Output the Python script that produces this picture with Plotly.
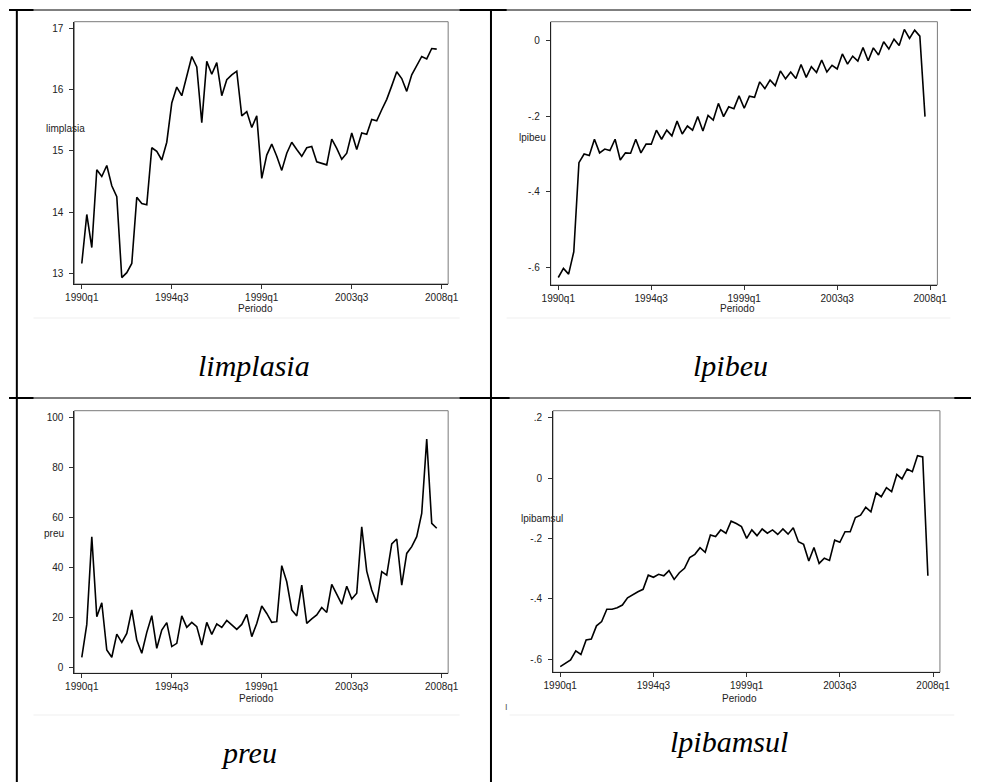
import plotly.graph_objects as go

W, H = 982, 782

# Quarterly observations, 1990q1 .. 2007q4
limplasia = [13.16, 13.96, 13.42, 14.69, 14.58, 14.76, 14.43, 14.25, 12.93, 13.01,
             13.16, 14.24, 14.14, 14.12, 15.05, 14.99, 14.85, 15.14, 15.78, 16.04,
             15.90, 16.21, 16.54, 16.37, 15.46, 16.46, 16.25, 16.44, 15.90, 16.16,
             16.24, 16.30, 15.57, 15.64, 15.38, 15.57, 14.55, 14.93, 15.11, 14.91,
             14.68, 14.96, 15.14, 15.02, 14.91, 15.05, 15.07, 14.82, 14.80, 14.77,
             15.19, 15.04, 14.86, 14.96, 15.29, 15.02, 15.29, 15.27, 15.51, 15.49,
             15.67, 15.84, 16.06, 16.29, 16.18, 15.97, 16.24, 16.40, 16.54, 16.50,
             16.67, 16.66]

lpibeu = [-0.627, -0.603, -0.618, -0.559, -0.323, -0.300, -0.304, -0.261, -0.297, -0.287,
          -0.291, -0.261, -0.316, -0.297, -0.298, -0.261, -0.297, -0.274, -0.274, -0.237,
          -0.261, -0.237, -0.252, -0.213, -0.247, -0.226, -0.237, -0.201, -0.239, -0.198,
          -0.210, -0.166, -0.201, -0.175, -0.180, -0.146, -0.179, -0.147, -0.150, -0.109,
          -0.127, -0.104, -0.119, -0.080, -0.101, -0.083, -0.100, -0.063, -0.097, -0.069,
          -0.084, -0.051, -0.083, -0.065, -0.075, -0.035, -0.062, -0.041, -0.054, -0.018,
          -0.053, -0.019, -0.038, -0.003, -0.022, 0.004, -0.013, 0.030, 0.006, 0.028,
          0.012, -0.201]

preu = [3.9, 17.1, 52.3, 20.2, 25.8, 6.8, 3.9, 13.2, 9.9, 13.5,
        22.9, 10.8, 5.5, 13.9, 20.6, 7.5, 14.8, 17.8, 8.2, 9.5,
        20.5, 15.9, 17.9, 16.2, 8.8, 17.9, 13.1, 17.3, 15.9, 18.7,
        16.9, 15.1, 17.1, 21.1, 12.2, 17.5, 24.5, 21.5, 17.9, 18.2,
        40.7, 34.2, 22.9, 20.5, 32.9, 17.5, 19.3, 20.9, 23.9, 21.9,
        33.2, 28.9, 25.2, 32.4, 27.3, 29.6, 56.3, 38.5, 30.9, 25.8,
        38.3, 36.9, 49.4, 51.4, 32.9, 45.6, 48.3, 52.3, 61.7, 91.5,
        57.7, 55.7]

lpibamsul = [-0.625, -0.614, -0.603, -0.573, -0.585, -0.537, -0.534, -0.490, -0.476, -0.435,
             -0.435, -0.430, -0.421, -0.397, -0.386, -0.377, -0.369, -0.322, -0.329, -0.319,
             -0.324, -0.307, -0.336, -0.314, -0.299, -0.264, -0.253, -0.231, -0.246, -0.189,
             -0.194, -0.172, -0.183, -0.143, -0.151, -0.161, -0.200, -0.172, -0.191, -0.169,
             -0.183, -0.172, -0.187, -0.169, -0.186, -0.165, -0.211, -0.220, -0.275, -0.230,
             -0.283, -0.266, -0.273, -0.206, -0.213, -0.178, -0.178, -0.131, -0.123, -0.097,
             -0.112, -0.049, -0.062, -0.032, -0.045, 0.012, -0.003, 0.030, 0.021, 0.074,
             0.070, -0.324]

period_ticks = [0, 18, 36, 54, 72]
period_labels = ["1990q1", "1994q3", "1999q1", "2003q3", "2008q1"]

y_ticks_limplasia = [13, 14, 15, 16, 17]
y_labels_limplasia = ["13", "14", "15", "16", "17"]
y_ticks_lpibeu = [-0.6, -0.4, -0.2, 0]
y_labels_lpibeu = ["-.6", "-.4", "-.2", "0"]
y_ticks_preu = [0, 20, 40, 60, 80, 100]
y_labels_preu = ["0", "20", "40", "60", "80", "100"]
y_ticks_lpibamsul = [-0.6, -0.4, -0.2, 0, 0.2]
y_labels_lpibamsul = ["-.6", "-.4", "-.2", "0", ".2"]

captions = ["limplasia", "lpibeu", "preu", "lpibamsul"]


def px(x):
    return x / W


def py(y):
    return 1 - y / H


SANS = "Arial, Liberation Sans, Helvetica, sans-serif"
SERIF = "Times New Roman, Liberation Serif, serif"

# panel geometry in page pixels: box (left, right, top, bottom), axis ranges
panels = [
    dict(name="limplasia", y=limplasia, box=(66.7, 448.3, 21.7, 284.0),
         xr=(-1.49, 73.29), yr=(12.825, 17.108),
         yt=y_ticks_limplasia, yl=y_labels_limplasia,
         ylab=(58, 128), per=(252, 308.5), cap=(250, 366)),
    dict(name="lpibeu", y=lpibeu, box=(553.0, 947.7, 21.7, 285.0),
         xr=(-1.46, 73.4), yr=(-0.6469, 0.0503),
         yt=y_ticks_lpibeu, yl=y_labels_lpibeu,
         ylab=(534, 137.7), per=(744, 308.5), cap=(736, 366)),
    dict(name="preu", y=preu, box=(66.7, 448.3, 410.7, 673.3),
         xr=(-1.49, 73.29), yr=(-2.53, 102.9),
         yt=y_ticks_preu, yl=y_labels_preu,
         ylab=(46, 533), per=(252.5, 698.5), cap=(245, 752)),
    dict(name="lpibamsul", y=lpibamsul, box=(555.3, 950.3, 410.7, 672.3),
         xr=(-1.40, 73.33), yr=(-0.644, 0.2232),
         yt=y_ticks_lpibamsul, yl=y_labels_lpibamsul,
         ylab=(544, 518.3), per=(745.5, 698.5), cap=(735, 741)),
]

fig = go.Figure()
shapes = []
annotations = []

for i, p in enumerate(panels, start=1):
    xa = "x" if i == 1 else f"x{i}"
    ya = "y" if i == 1 else f"y{i}"
    xkey = "xaxis" if i == 1 else f"xaxis{i}"
    ykey = "yaxis" if i == 1 else f"yaxis{i}"
    l, r, t, b = p["box"]

    fig.add_trace(go.Scatter(
        x=list(range(len(p["y"]))), y=p["y"], mode="lines",
        line=dict(color="black", width=1.6), xaxis=xa, yaxis=ya,
        showlegend=False, hoverinfo="skip"))

    fig.update_layout(**{
        xkey: dict(domain=[px(l), px(r)], range=list(p["xr"]), anchor=ya,
                   showgrid=False, zeroline=False, showline=True,
                   linecolor="#222", linewidth=1, ticks="outside", ticklen=4,
                   tickcolor="#333", tickvals=period_ticks, ticktext=period_labels,
                   tickfont=dict(family=SANS, size=10, color="#222")),
        ykey: dict(domain=[py(b), py(t)], range=list(p["yr"]), anchor=xa,
                   showgrid=False, zeroline=False, showline=True,
                   linecolor="#222", linewidth=1, ticks="outside", ticklen=4,
                   tickcolor="#333", tickvals=p["yt"], ticktext=p["yl"],
                   ticklabelstandoff=4,
                   tickfont=dict(family=SANS, size=10, color="#222")),
    })

    # grey frame around the plot region
    shapes.append(dict(type="rect", xref="paper", yref="paper",
                       x0=px(l), x1=px(r), y0=py(b), y1=py(t),
                       line=dict(color="#7a7a7a", width=1), layer="below"))

    annotations.append(dict(text=p["name"], x=px(p["ylab"][0]), y=py(p["ylab"][1]),
                            xref="paper", yref="paper", showarrow=False,
                            xanchor="center", yanchor="middle",
                            font=dict(family=SANS, size=10, color="#222")))
    annotations.append(dict(text="Periodo", x=px(p["per"][0]), y=py(p["per"][1]),
                            xref="paper", yref="paper", showarrow=False,
                            xanchor="center", yanchor="middle",
                            font=dict(family=SANS, size=10, color="#222")))
    annotations.append(dict(text=f"<i>{captions[i - 1]}</i>",
                            x=px(p["cap"][0]), y=py(p["cap"][1]),
                            xref="paper", yref="paper", showarrow=False,
                            xanchor="center", yanchor="middle",
                            font=dict(family=SERIF, size=30, color="black")))

annotations.append(dict(text="I", x=px(508), y=py(714), xref="paper", yref="paper",
                        showarrow=False, font=dict(family=SANS, size=9, color="#555")))


def hline(y, x0, x1, w, color="black"):
    shapes.append(dict(type="line", xref="paper", yref="paper",
                       x0=px(x0), x1=px(x1), y0=py(y), y1=py(y),
                       line=dict(color=color, width=w)))


def vline(x, y0, y1, w):
    shapes.append(dict(type="line", xref="paper", yref="paper",
                       x0=px(x), x1=px(x), y0=py(y0), y1=py(y1),
                       line=dict(color="black", width=w)))


# table rules
hline(10, 0, 982, 1)
for a, c in [(0, 25), (460, 508), (961, 982)]:
    hline(10, a, c, 2)
hline(398, 0, 982, 1)
for a, c in [(0, 25), (460, 511), (965, 982)]:
    hline(398, a, c, 2)
vline(8, 9, 782, 2)
vline(492, 9, 782, 2)

# faint lower edges of the pasted graph images
hline(318, 25, 460, 1, "#efefef")
hline(318, 508, 961, 1, "#efefef")
hline(715, 25, 460, 1, "#efefef")
hline(715, 511, 965, 1, "#efefef")

fig.update_layout(width=W, height=H, margin=dict(l=0, r=0, t=0, b=0),
                  paper_bgcolor="white", plot_bgcolor="white",
                  shapes=shapes, annotations=annotations)

fig.write_html("out.html")
